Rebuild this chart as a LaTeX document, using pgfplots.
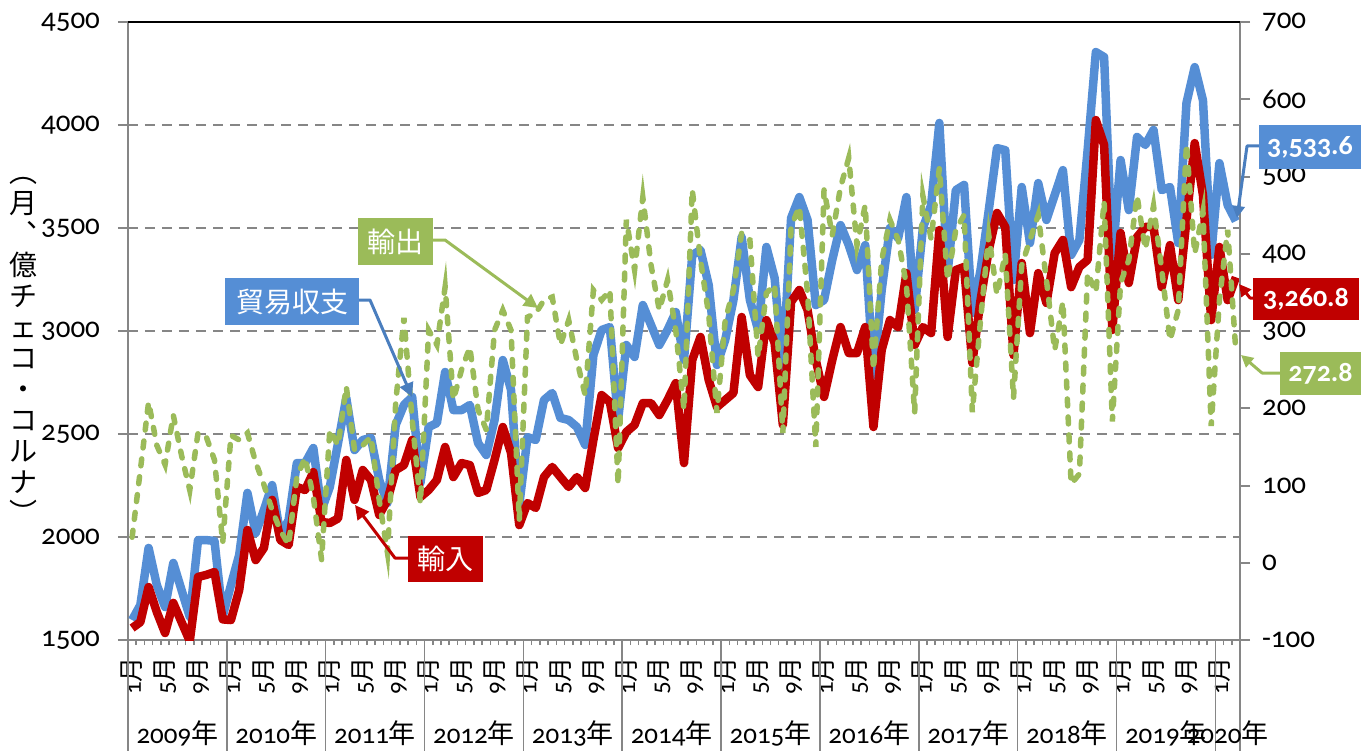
\documentclass[border=0pt]{standalone}
\usepackage{fontspec}
\setmainfont{Carlito}[Numbers=OldStyle]
\newfontfamily\cjk{Noto Sans CJK JP}
\usepackage{pgfplots}
\pgfplotsset{compat=1.18}
\usepackage{pgfplotstable}
\usetikzlibrary{arrows.meta}

\definecolor{cblue}{RGB}{85,142,213}
\definecolor{cblueA}{RGB}{74,126,190}
\definecolor{cred}{RGB}{192,0,0}
\definecolor{cgreen}{RGB}{155,187,89}
\definecolor{cgrid}{RGB}{134,134,134}

% b = blue (left axis), r = red (left axis), g = green dashed (right axis)
\pgfplotstableread{
b r g
1597 1558 33
1670 1587 120
1947 1757 208
1767 1636 152
1660 1534 127
1874 1680 191
1743 1587 139
1612 1495 94
1985 1806 168
1985 1816 163
1981 1830 133
1615 1600 26
1767 1597 165
1913 1743 159
2214 2034 168
2019 1888 130
2131 1947 101
2252 2180 68
2010 1985 42
2082 1961 23
2359 2243 111
2359 2228 136
2432 2315 85
2131 2073 4
2243 2068 172
2456 2090 152
2675 2374 228
2422 2180 146
2471 2325 152
2481 2277 163
2277 2107 81
2165 2180 13
2544 2325 207
2641 2349 317
2680 2471 185
2262 2194 77
2534 2228 301
2553 2277 282
2801 2437 357
2616 2291 211
2616 2359 250
2641 2349 279
2456 2214 198
2398 2228 172
2568 2374 301
2859 2534 327
2714 2408 301
2155 2058 55
2485 2165 318
2471 2141 323
2665 2291 340
2699 2340 344
2578 2291 282
2568 2243 314
2534 2291 262
2447 2238 217
2883 2471 353
3005 2689 340
3019 2655 353
2568 2432 101
2932 2510 444
2874 2544 379
3126 2650 473
3029 2650 385
2932 2592 327
3005 2665 366
3092 2747 301
2859 2359 198
3369 2859 483
3393 2971 392
3223 2762 321
2835 2631 194
2956 2665 314
3150 2699 353
3456 3068 427
3150 2786 418
3005 2728 266
3408 3053 349
3257 2942 360
2820 2544 168
3548 3141 435
3650 3199 461
3539 3102 349
3126 2859 150
3150 2680 483
3345 2859 424
3514 3019 486
3417 2893 524
3296 2893 411
3417 3019 463
2786 2534 250
3199 2908 392
3500 3053 444
3451 3019 418
3650 3281 360
3102 2932 194
3500 3019 475
3611 2990 419
4010 3490 511
3281 2971 366
3684 3296 431
3709 3311 450
3087 2845 195
3296 3150 314
3587 3393 424
3888 3573 347
3878 3505 400
3247 2883 213
3699 3330 385
3427 2990 418
3718 3281 450
3539 3136 366
3660 3378 275
3781 3442 338
3369 3213 102
3442 3311 115
3878 3345 375
4354 4024 350
4330 3903 468
3345 3005 183
3830 3476 362
3587 3233 392
3942 3456 475
3903 3505 406
3976 3505 462
3684 3213 379
3699 3417 288
3427 3150 327
4107 3539 542
4281 3912 400
4121 3660 455
3369 3053 177
3815 3408 340
3611 3150 431
3533.6 3260.8 272.8
}\data

\newcommand\M[1]{#1{\cjk 月}}

\begin{document}
\begin{tikzpicture}
\useasboundingbox (-64pt,-55.5pt) rectangle (620.5pt,320pt);
\begin{axis}[
  at={(0,0)}, anchor=south west,
  scale only axis, width=556pt, height=309pt,
  xmin=0, xmax=135, ymin=1500, ymax=4500,
  axis x line*=bottom, axis y line*=left,
  axis line style={cgrid, line width=1pt},
  tick align=outside,
  major tick length=5pt, minor tick length=2.5pt,
  ytick={1500,2000,2500,3000,3500,4000,4500},
  yticklabels={1500,2000,2500,3000,3500,4000,4500},
  y tick label style={font=\fontsize{14.5}{16}\selectfont, xshift=-5.5pt},
  ytick style={cgrid, line width=1pt},
  ymajorgrids,
  major grid style={cgrid, line width=1pt, dash pattern=on 5pt off 3.5pt},
  xtick={0.5,4.5,8.5,12.5,16.5,20.5,24.5,28.5,32.5,36.5,40.5,44.5,48.5,52.5,56.5,60.5,64.5,68.5,72.5,76.5,80.5,84.5,88.5,92.5,96.5,100.5,104.5,108.5,112.5,116.5,120.5,124.5,128.5,132.5},
  xticklabels={\M1,\M5,\M9,\M1,\M5,\M9,\M1,\M5,\M9,\M1,\M5,\M9,\M1,\M5,\M9,\M1,\M5,\M9,\M1,\M5,\M9,\M1,\M5,\M9,\M1,\M5,\M9,\M1,\M5,\M9,\M1,\M5,\M9,\M1},
  x tick label style={rotate=90, anchor=east, font=\fontsize{12.5}{14}\selectfont},
  major x tick style={draw=none},
  minor xtick={0,1,...,135},
  minor x tick style={cgrid, line width=0.75pt},
  clip=true,
]
\addplot[cblue, line width=4.25pt, line join=round, no marks] table[x expr=\coordindex+0.5, y=b]{\data};
\addplot[cred, line width=4.25pt, line join=round, no marks] table[x expr=\coordindex+0.5, y=r]{\data};
\end{axis}
\begin{axis}[
  at={(0,0)}, anchor=south west,
  scale only axis, width=556pt, height=309pt,
  xmin=0, xmax=135, ymin=-100, ymax=700,
  axis x line=none, axis y line*=right,
  axis line style={cgrid, line width=1pt},
  tick align=outside, major tick length=5pt,
  xtick=\empty,
  ytick={-100,0,100,200,300,400,500,600,700},
  yticklabels={-100,0,100,200,300,400,500,600,700},
  y tick label style={anchor=west, font=\fontsize{14.5}{16}\selectfont, xshift=2.5pt},
  ytick style={cgrid, line width=1pt},
]
\addplot[cgreen, line width=2.75pt, line cap=round, dash pattern=on 3.5pt off 5.5pt, no marks] table[x expr=\coordindex+0.5, y=g]{\data};
\end{axis}

% top border
\draw[black, line width=1.2pt] (0,309pt) -- (556pt,309pt);
% year separators and year labels
\foreach \k in {0,...,11} \draw[cgrid, line width=0.75pt] ({\k*49.4222pt},0) -- ++(0,-55.5pt);
\draw[cgrid, line width=0.75pt] (556pt,0) -- ++(0,-55.5pt);
\foreach \k/\y in {0/2009,1/2010,2/2011,3/2012,4/2013,5/2014,6/2015,7/2016,8/2017,9/2018,10/2019}
  \node[font=\fontsize{13.5}{15}\selectfont, inner sep=0] at ({(\k*12+6)*4.11852pt},-46.5pt) {\y{\cjk 年}};
\node[font=\fontsize{13.5}{15}\selectfont, inner sep=0] at ({133.5*4.11852pt},-46.5pt) {2020{\cjk 年}};

% y label (vertical)
\node[font=\cjk\fontsize{14}{15.5}\selectfont, align=center, inner sep=0] at (-52pt,145pt)
  {︵\\月\\︑\\億\\チ\\ェ\\コ\\・\\コ\\ル\\ナ\\︶};

% callouts
\draw[cgreen, line width=1.5pt, line join=round, -{Triangle[length=7pt,width=7pt]}] (152.5pt,200pt) -- (158.5pt,200pt) -- (205pt,166pt);
\node[fill=cgreen, text=white, font=\cjk\fontsize{14}{16}\selectfont, minimum width=37.5pt, minimum height=23.5pt, inner sep=0] at (133.75pt,199.25pt) {輸出};

\draw[cblueA, line width=1.5pt, line join=round, -{Triangle[length=7pt,width=7pt]}] (115.5pt,170pt) -- (121pt,170pt) -- (142pt,121.5pt);
\node[fill=cblue, text=white, font=\cjk\fontsize{14}{16}\selectfont, minimum width=67pt, minimum height=23.5pt, inner sep=0] at (82pt,169.25pt) {貿易収支};

\draw[cred, line width=1.5pt, line join=round, -{Triangle[length=7pt,width=7pt]}] (140pt,41pt) -- (133.5pt,41pt) -- (113.5pt,67.5pt);
\node[fill=cred, text=white, font=\cjk\fontsize{14}{16}\selectfont, minimum width=37.5pt, minimum height=23pt, inner sep=0] at (158.75pt,40.5pt) {輸入};

\draw[cblueA, line width=1.5pt, line join=round, -{Triangle[length=6pt,width=6pt]}] (565.5pt,247pt) -- (559.5pt,247pt) -- (554.5pt,211pt);
\node[fill=cblue, text=white, font=\bfseries\fontsize{14}{16}\selectfont, minimum width=51pt, minimum height=22pt, inner sep=0] at (591pt,246.5pt) {3,533.6};

\draw[cred, line width=1.5pt, line join=round, -{Triangle[length=6pt,width=6pt]}] (563pt,171pt) -- (561pt,171pt) -- (555.5pt,178pt);
\node[fill=cred, text=white, font=\bfseries\fontsize{14}{16}\selectfont, minimum width=53pt, minimum height=21pt, inner sep=0] at (589pt,170.5pt) {3,260.8};

\draw[cgreen, line width=1.5pt, line join=round, -{Triangle[length=6pt,width=6pt]}] (576pt,133.5pt) -- (567pt,133.5pt) -- (556.5pt,142.5pt);
\node[fill=cgreen, text=white, font=\bfseries\fontsize{14}{16}\selectfont, minimum width=40.5pt, minimum height=21.5pt, inner sep=0] at (596.25pt,133.25pt) {272.8};
\end{tikzpicture}
\end{document}
